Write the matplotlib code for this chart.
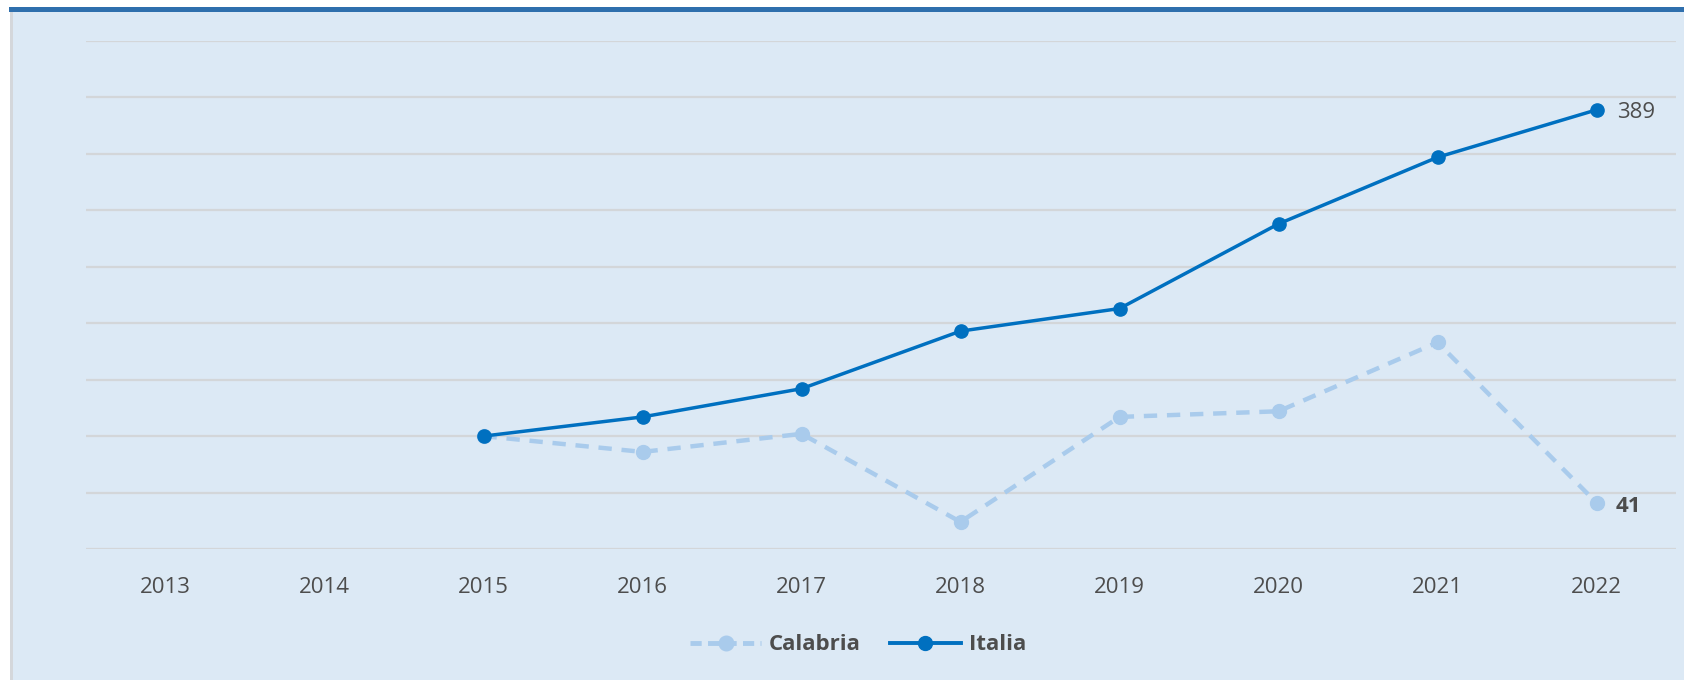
import matplotlib
matplotlib.use("Agg")
import matplotlib.pyplot as plt
from matplotlib.patches import Rectangle
from matplotlib.lines import Line2D

plt.rcParams['font.family'] = ['Open Sans', 'DejaVu Sans']

# --- data (index, 2015 = 100) ---
years = [2013, 2014, 2015, 2016, 2017, 2018, 2019, 2020, 2021, 2022]
data_years = [2015, 2016, 2017, 2018, 2019, 2020, 2021, 2022]
italia = [100, 117, 142, 193, 213, 288, 347, 389]
calabria = [100, 86, 102, 24, 117, 122, 183, 41]
y_ticks = [0, 50, 100, 150, 200, 250, 300, 350, 400, 450]

c_italia = '#0070c0'
c_calabria = '#a9cbec'
c_text = '#4d4d4d'
c_bg = '#dce9f5'

W, H = 1684, 680
fig = plt.figure(figsize=(W / 100, H / 100), dpi=100)
fig.patch.set_facecolor('white')

# panel background, left border, top bar
fig.add_artist(Rectangle((12 / W, 0), 1 - 12 / W, 1 - 12 / H, transform=fig.transFigure,
                         facecolor=c_bg, edgecolor='none', zorder=0))
fig.add_artist(Rectangle((10 / W, 0), 2.5 / W, 1 - 12 / H, transform=fig.transFigure,
                         facecolor='#d4d7db', edgecolor='none', zorder=0))
fig.add_artist(Rectangle((9 / W, 1 - 12 / H), 1 - 9 / W, 5 / H, transform=fig.transFigure,
                         facecolor='#2f6fad', edgecolor='none', zorder=0))

ax = fig.add_axes([86 / W, 1 - 549 / H, 1590 / W, 508 / H])
ax.set_facecolor('none')
ax.set_xlim(2012.5, 2022.5)
ax.set_ylim(0, 450)
ax.set_yticks(y_ticks)
ax.set_xticks(years)
ax.set_xticklabels([str(y) for y in years], color=c_text, fontsize=16)
ax.tick_params(axis='y', left=False, labelleft=False)
ax.tick_params(axis='x', bottom=False, pad=17)
ax.grid(axis='y', color='#d3d6d9', lw=1.6)
ax.set_axisbelow(True)
for s in ax.spines.values():
    s.set_visible(False)

ax.plot(data_years, calabria, color=c_calabria, lw=3.2, ls=(0, (3, 2.2)),
        marker='o', ms=10, zorder=3)
ax.plot(data_years, italia, color=c_italia, lw=2.5, marker='o', ms=9.5, zorder=4)

ax.annotate(str(italia[-1]), (data_years[-1], italia[-1]), xytext=(15, -2),
            textcoords='offset points', ha='left', va='center', fontsize=16, color=c_text)
ax.annotate(str(calabria[-1]), (data_years[-1], calabria[-1]), xytext=(14, -3),
            textcoords='offset points', ha='left', va='center', fontsize=16,
            fontweight='bold', color=c_text)

handles = [
    Line2D([], [], color=c_calabria, lw=3.5, ls=(0, (2.3, 1.3)), marker='o', ms=10.5),
    Line2D([], [], color=c_italia, lw=2.8, marker='o', ms=10),
]
leg = fig.legend(handles, ['Calabria', 'Italia'], loc='center', bbox_to_anchor=(858 / W, 1 - 645 / H),
                 ncol=2, frameon=False, handlelength=3.2, handletextpad=0.35, columnspacing=1.3,
                 prop={'size': 16, 'weight': 'bold'})
for t in leg.get_texts():
    t.set_color(c_text)

fig.savefig('out.png', dpi=100, facecolor=fig.get_facecolor())
